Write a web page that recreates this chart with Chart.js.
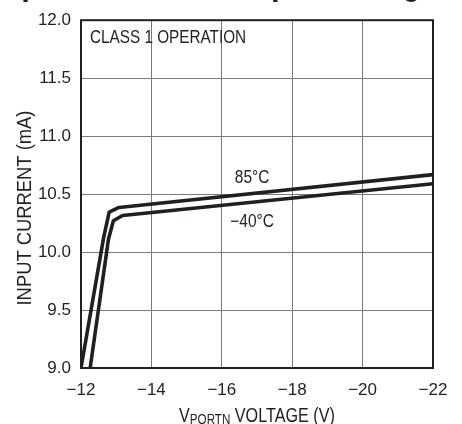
<!DOCTYPE html>
<html>
<head>
<meta charset="utf-8">
<script src="https://cdn.jsdelivr.net/npm/chart.js@4/dist/chart.umd.min.js"></script>
<style>
  html, body { margin: 0; padding: 0; background: #fff; overflow: hidden; }
  #wrap { position: relative; width: 462px; height: 424px; }
</style>
</head>
<body>
<div id="wrap"><canvas id="chart" width="462" height="424"></canvas></div>
<script>
// VPORTN voltage (V) vs input current (mA)
const voltsHot = [-12.0, -12.64, -12.80, -13.08, -22.0];
const currentHot = [9.0, 10.12, 10.345, 10.385, 10.668];
const voltsCold = [-12.26, -12.78, -12.92, -13.18, -22.0];
const currentCold = [9.0, 10.11, 10.27, 10.315, 10.589];

const xTicks = [-12, -14, -16, -18, -20, -22];
const yTicks = [9.0, 9.5, 10.0, 10.5, 11.0, 11.5, 12.0];

const seriesNames = ['85°C', '−40°C'];
const noteText = 'CLASS 1 OPERATION';
const titleText = 'Input Current vs Input Voltage';
const xTitleMain = 'V';
const xTitleSub = 'PORTN';
const xTitleRest = ' VOLTAGE (V)';
const yTitle = 'INPUT CURRENT (mA)';

const FONT = '"Liberation Sans", Arial, sans-serif';
const INK = '#231f20';

function toPoints(xs, ys) {
    return xs.map((x, i) => ({x: x, y: ys[i]}));
}

// condensed text: squeeze horizontally around the anchor
function narrowText(ctx, txt, x, y, sx) {
    ctx.save();
    ctx.translate(x, y);
    ctx.scale(sx, 1);
    ctx.fillText(txt, 0, 0);
    ctx.restore();
}

const decor = {
    id: 'decor',
    afterDraw(chart) {
        const ctx = chart.ctx;
        const a = chart.chartArea;
        const xs = chart.scales.x, ys = chart.scales.y;
        ctx.save();
        // frame
        ctx.strokeStyle = INK;
        ctx.lineWidth = 2;
        ctx.strokeRect(a.left, a.top, a.right - a.left, a.bottom - a.top);

        ctx.fillStyle = INK;
        // title sits above the picture, only descenders show
        ctx.font = 'bold 40px ' + FONT;
        ctx.textAlign = 'center';
        ctx.textBaseline = 'alphabetic';
        narrowText(ctx, titleText, 216, -6, 0.78);

        // note
        ctx.font = '18px ' + FONT;
        ctx.textAlign = 'left';
        ctx.textBaseline = 'middle';
        narrowText(ctx, noteText, a.left + 9, a.top + 18, 0.85);

        // curve labels
        ctx.font = '18px ' + FONT;
        ctx.textAlign = 'center';
        narrowText(ctx, seriesNames[0], xs.getPixelForValue(-16.86), ys.getPixelForValue(10.64), 0.86);
        narrowText(ctx, seriesNames[1], xs.getPixelForValue(-16.86), ys.getPixelForValue(10.258), 0.86);

        // x title with subscript
        const sx = 0.83;
        ctx.textBaseline = 'alphabetic';
        ctx.textAlign = 'left';
        ctx.font = '19.5px ' + FONT;
        const w1 = ctx.measureText(xTitleMain).width * sx;
        const w3 = ctx.measureText(xTitleRest).width * sx;
        ctx.font = '14px ' + FONT;
        const w2 = ctx.measureText(xTitleSub).width * sx;
        let x0 = (a.left + a.right) / 2 - (w1 + w2 + w3) / 2;
        const base = 422;
        ctx.font = '19.5px ' + FONT;
        narrowText(ctx, xTitleMain, x0, base, sx);
        ctx.font = '14px ' + FONT;
        narrowText(ctx, xTitleSub, x0 + w1, base + 2, sx);
        ctx.font = '19.5px ' + FONT;
        narrowText(ctx, xTitleRest, x0 + w1 + w2, base, sx);

        // y title
        ctx.translate(25, 208);
        ctx.rotate(-Math.PI / 2);
        ctx.textAlign = 'center';
        ctx.textBaseline = 'middle';
        ctx.font = '21px ' + FONT;
        narrowText(ctx, yTitle, 0, 0, 0.875);
        ctx.restore();
    }
};

const ctx = document.getElementById('chart').getContext('2d');
const chart = new Chart(ctx, {
    type: 'line',
    data: {
        datasets: [{
            label: seriesNames[0],
            data: toPoints(voltsHot, currentHot),
            borderColor: INK,
            borderWidth: 3.6,
            borderJoinStyle: 'round',
            pointRadius: 0,
            tension: 0,
            fill: false
        }, {
            label: seriesNames[1],
            data: toPoints(voltsCold, currentCold),
            borderColor: INK,
            borderWidth: 3.6,
            borderJoinStyle: 'round',
            pointRadius: 0,
            tension: 0,
            fill: false
        }]
    },
    options: {
        responsive: false,
        animation: false,
        devicePixelRatio: 1,
        layout: { padding: { left: 0, top: 15, right: 29, bottom: 0 } },
        plugins: { legend: { display: false }, tooltip: { enabled: false } },
        scales: {
            x: {
                type: 'linear',
                min: -22, max: -12,
                reverse: true,
                afterBuildTicks: (s) => { s.ticks = xTicks.map(v => ({value: v})); },
                afterFit: (s) => { s.height = 56; },
                grid: { color: '#7a7a7a', lineWidth: 1, drawTicks: false },
                border: { display: false },
                ticks: {
                    padding: 12,
                    color: INK,
                    font: { family: FONT, size: 17 },
                    maxRotation: 0,
                    callback: (v) => '−' + Math.abs(v)
                }
            },
            y: {
                type: 'linear',
                min: 9, max: 12,
                afterBuildTicks: (s) => { s.ticks = yTicks.map(v => ({value: v})); },
                afterFit: (s) => { s.width = 81; },
                grid: { color: '#7a7a7a', lineWidth: 1, drawTicks: false },
                border: { display: false },
                ticks: {
                    padding: 10,
                    color: INK,
                    font: { family: FONT, size: 17 },
                    callback: (v) => v.toFixed(1)
                }
            }
        }
    },
    plugins: [decor]
});
</script>
</body>
</html>
